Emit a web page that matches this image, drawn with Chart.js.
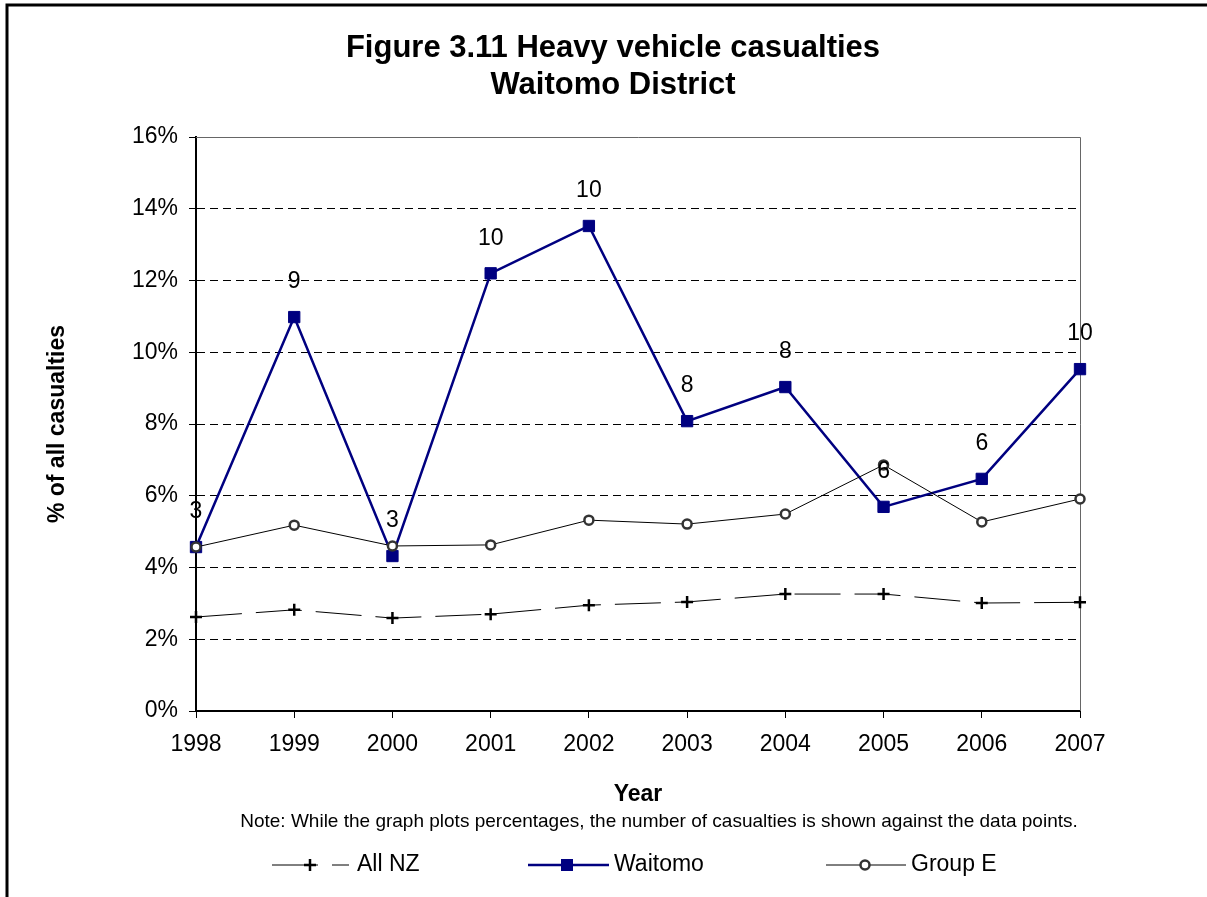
<!DOCTYPE html>
<html>
<head>
<meta charset="utf-8">
<title>Figure 3.11 Heavy vehicle casualties</title>
<script src="https://cdn.jsdelivr.net/npm/chart.js@4.4.1/dist/chart.umd.min.js"></script>
<style>
  body { margin: 0; background: #fff; }
  canvas { display: block; }
</style>
</head>
<body>
<canvas id="lineChart" width="1207" height="897"></canvas>
<script>
//data
var years = ["1998", "1999", "2000", "2001", "2002", "2003", "2004", "2005", "2006", "2007"];
var allNZ = [2.62, 2.82, 2.59, 2.7, 2.95, 3.04, 3.26, 3.26, 3.01, 3.03];
var waitomo = [4.57, 10.98, 4.32, 12.2, 13.52, 8.08, 9.03, 5.69, 6.47, 9.53];
var groupE = [4.57, 5.18, 4.6, 4.63, 5.32, 5.21, 5.49, 6.86, 5.27, 5.91];
var waitomoCounts = [3, 9, 3, 10, 10, 8, 8, 6, 6, 10];
var seriesNames = ["All NZ", "Waitomo", "Group E"];
var titleLines = ["Figure 3.11 Heavy vehicle casualties", "Waitomo District"];
var noteText = "Note: While the graph plots percentages, the number of casualties is shown against the data points.";

var FONT = "'Liberation Sans', Arial, sans-serif";
var NAVY = "#000080";

//extra drawing: frame, title, labels, note, legend
var decorations = {
  id: "decorations",
  beforeDatasetsDraw: function (chart) {
    var ctx = chart.ctx;
    var a = chart.chartArea;
    ctx.save();
    ctx.strokeStyle = "#666";
    ctx.lineWidth = 1;
    ctx.beginPath();
    ctx.moveTo(a.left, a.top + 0.5);
    ctx.lineTo(a.right + 0.5, a.top + 0.5);
    ctx.lineTo(a.right + 0.5, a.bottom);
    ctx.stroke();
    ctx.restore();
  },
  afterDraw: function (chart) {
    var ctx = chart.ctx;
    ctx.save();

    // outer frame (top and left edges visible)
    ctx.strokeStyle = "#000";
    ctx.lineWidth = 3;
    ctx.beginPath();
    ctx.moveTo(7, 897);
    ctx.lineTo(7, 5);
    ctx.lineTo(1207, 5);
    ctx.stroke();

    // title
    ctx.fillStyle = "#000";
    ctx.textAlign = "center";
    ctx.textBaseline = "middle";
    ctx.font = "bold 31px " + FONT;
    ctx.fillText(titleLines[0], 613, 48);
    ctx.fillText(titleLines[1], 613, 85);

    // counts above the Waitomo points
    var meta = chart.getDatasetMeta(1);
    ctx.font = "23px " + FONT;
    meta.data.forEach(function (pt, i) {
      ctx.fillText(String(waitomoCounts[i]), pt.x, pt.y - 35);
    });

    // note
    ctx.font = "19px " + FONT;
    ctx.fillText(noteText, 659, 822);

    // legend
    var y = 865;
    ctx.lineWidth = 1;
    ctx.strokeStyle = "#000";
    ctx.setLineDash([46, 14]);
    ctx.beginPath();
    ctx.moveTo(272, y);
    ctx.lineTo(349, y);
    ctx.stroke();
    ctx.setLineDash([]);
    ctx.lineWidth = 2.5;
    ctx.beginPath();
    ctx.moveTo(304, y);
    ctx.lineTo(316, y);
    ctx.moveTo(310, y - 6);
    ctx.lineTo(310, y + 6);
    ctx.stroke();

    ctx.strokeStyle = NAVY;
    ctx.lineWidth = 2.5;
    ctx.beginPath();
    ctx.moveTo(528, y);
    ctx.lineTo(609, y);
    ctx.stroke();
    ctx.fillStyle = NAVY;
    ctx.fillRect(561, y - 6, 12, 12);

    ctx.strokeStyle = "#000";
    ctx.lineWidth = 1;
    ctx.beginPath();
    ctx.moveTo(826, y);
    ctx.lineTo(906, y);
    ctx.stroke();
    ctx.fillStyle = "#fff";
    ctx.strokeStyle = "#333";
    ctx.lineWidth = 2.5;
    ctx.beginPath();
    ctx.arc(865, y, 4.5, 0, Math.PI * 2);
    ctx.fill();
    ctx.stroke();

    ctx.fillStyle = "#000";
    ctx.textAlign = "left";
    ctx.font = "23px " + FONT;
    ctx.fillText(seriesNames[0], 357, y);
    ctx.fillText(seriesNames[1], 614, y);
    ctx.fillText(seriesNames[2], 911, y);

    ctx.restore();
  }
};

//line
var ctxL = document.getElementById("lineChart").getContext("2d");
var myLineChart = new Chart(ctxL, {
  type: "line",
  data: {
    labels: years,
    datasets: [
      {
        label: seriesNames[0],
        data: allNZ,
        borderColor: "#000",
        borderWidth: 1,
        borderDash: [46, 14],
        pointStyle: "cross",
        pointRadius: 6,
        pointBorderWidth: 2.5,
        pointBorderColor: "#000",
        pointBackgroundColor: "#000",
        tension: 0,
        order: 2
      },
      {
        label: seriesNames[1],
        data: waitomo,
        borderColor: NAVY,
        borderWidth: 2.5,
        pointStyle: "rect",
        pointRadius: 8,
        pointBorderWidth: 1,
        pointBorderColor: NAVY,
        pointBackgroundColor: NAVY,
        tension: 0,
        order: 1
      },
      {
        label: seriesNames[2],
        data: groupE,
        borderColor: "#000",
        borderWidth: 1,
        pointStyle: "circle",
        pointRadius: 4.5,
        pointBorderWidth: 2.5,
        pointBorderColor: "#333",
        pointBackgroundColor: "#fff",
        tension: 0,
        order: 0
      }
    ]
  },
  options: {
    responsive: false,
    animation: false,
    layout: {
      padding: { top: 137, right: 127, bottom: 0, left: 0 }
    },
    plugins: {
      legend: { display: false },
      title: { display: false },
      tooltip: { enabled: false }
    },
    scales: {
      x: {
        offset: false,
        afterFit: function (scale) {
          scale.height = 186;
        },
        grid: {
          drawOnChartArea: false,
          drawTicks: true,
          tickLength: 7,
          tickColor: "#000",
          tickWidth: 1
        },
        border: { color: "#000", width: 2 },
        ticks: {
          color: "#000",
          padding: 13,
          maxRotation: 0,
          autoSkip: false,
          font: { family: FONT, size: 23 }
        },
        title: {
          display: true,
          text: "Year",
          color: "#000",
          font: { family: FONT, size: 23, weight: "bold" },
          padding: { top: 0, bottom: 89 }
        }
      },
      y: {
        min: 0,
        max: 16,
        afterFit: function (scale) {
          scale.width = 196;
        },
        grid: {
          color: function (c) {
            if (c.tick && (c.tick.value === 0 || c.tick.value === 16)) {
              return "rgba(0,0,0,0)";
            }
            return "#000";
          },
          lineWidth: 1,
          drawTicks: true,
          tickLength: 7,
          tickColor: "#000",
          tickWidth: 1,
          tickBorderDash: []
        },
        border: { color: "#000", width: 2, dash: [8, 5] },
        ticks: {
          stepSize: 2,
          color: "#000",
          padding: 11,
          font: { family: FONT, size: 23 },
          callback: function (v) {
            return v + "%";
          }
        },
        title: {
          display: true,
          text: "% of all casualties",
          color: "#000",
          font: { family: FONT, size: 23, weight: "bold" },
          padding: { top: 44, bottom: 0 }
        }
      }
    }
  },
  plugins: [decorations]
});
</script>
</body>
</html>
